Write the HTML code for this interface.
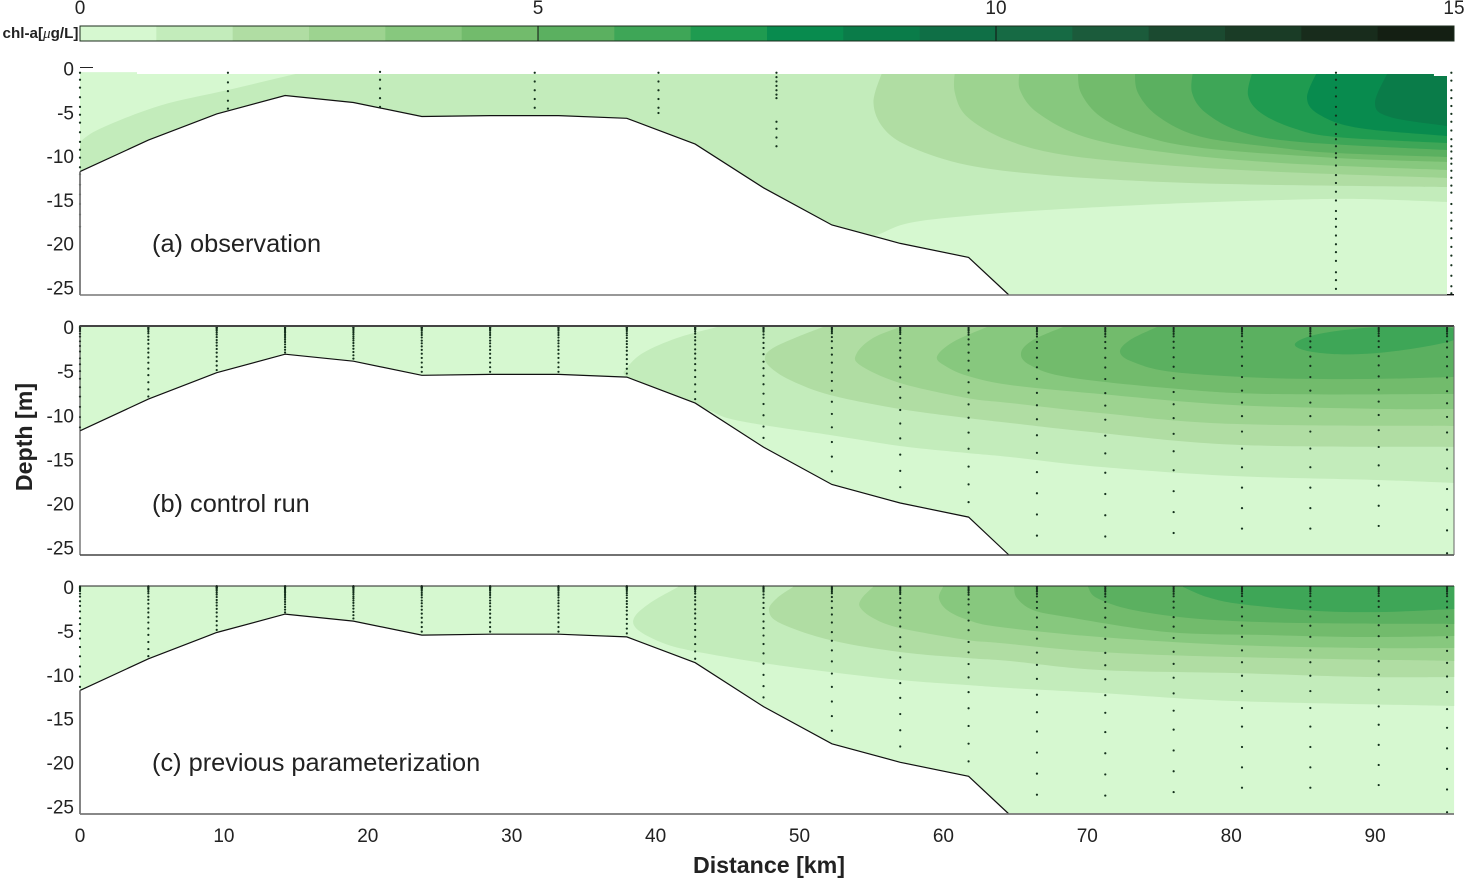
<!DOCTYPE html>
<html lang="en">
<head>
<meta charset="utf-8">
<title>Chlorophyll-a section: observation, control run, previous parameterization</title>
<style>
html,body{margin:0;padding:0;background:#fff;}
svg{display:block;}
text{font-family:"Liberation Sans",Arial,sans-serif;}
</style>
</head>
<body>
<svg id="chart" xmlns="http://www.w3.org/2000/svg" width="1464" height="880" viewBox="0 0 1464 880"></svg>
<script>
// ---------- colour scale ----------
const levelColors = ['#d6f8d0','#c3ecbb','#b0dda3','#9dd390','#87c87e','#72bb6c','#5bb060','#3ea657','#1f9b50','#088b4e','#0a7c49','#0f6f46','#166a44','#1b5b3b','#1b4a30','#1a3c26','#182c1c','#141f13'];
const colorbarTicks = [0,5,10,15];
const colorbarMax = 15;

// ---------- axes ----------
const xTicks = [0,10,20,30,40,50,60,70,80,90];
const yTicks = [0,-5,-10,-15,-20,-25];

// ---------- bathymetry (distance km, depth m) ----------
const bathyKm = [0,4.75,9.5,14.25,19,23.75,28.5,33.25,38,42.75,47.5,52.25,57,61.75,64.55];
const bathyDepth = [11.9,8.3,5.3,3.2,4.0,5.6,5.5,5.5,5.8,8.75,13.75,18.0,20.1,21.7,26];

// ---------- observed water surface in panel (a) ----------
const surfaceA = [[0,0.55],[3.96,0.55],[3.96,0.74],[94.07,0.74],[94.07,0.97],[95,0.97]];
const surfaceModel = [[0,0],[95.5,0]];

// ---------- observation stations, panel (a) ----------
const obsStationKm = [0,10.28,20.85,31.6,40.2,48.4,87.28,95.3];
const obsDepth0 = [0.6,1.4,2.3,3.4,4.5,5.4,6.3,7.4,8.5,9.4,10.3,11.4,12.2,13.4,14.5,15.6,16.8,18.2];
const obsDepth1 = [0.6,1.7,2.7,3.8,4.7];
const obsDepth2 = [0.5,1.4,2.4,3.5,4.5];
const obsDepth3 = [0.6,1.6,2.6,3.6,4.6];
const obsDepth4 = [0.6,1.6,2.6,3.6,4.6,5.2];
const obsDepth5 = [0.6,1.1,1.6,2.1,2.6,3.1,3.5,6.2,7.0,8.0,9.0];
const obsDepth6 = [0.6,1.4,2.3,3.3,4.5,5.5,6.5,7.6,8.2,9,9.8,10.3,11.2,12.3,13.2,14.2,15.2,16.4,17.3,18.2,19.2,20.2,21.1,22.1,23.4,24.3,25.3];
const obsDepth7 = [0.6,1.5,2.6,3.5,4.4,5.3,6.2,7.2,8.2,9,9.6,10.4,11,11.8,12.6,13.5,14.3,15.6,16.6,17.5,18.4,19.5,20.5,21.5,22.6,23.8,25,25.8];
const obsDepths = [obsDepth0,obsDepth1,obsDepth2,obsDepth3,obsDepth4,obsDepth5,obsDepth6,obsDepth7];

// ---------- model grid, panels (b) and (c) ----------
const modelStationKm = [0,4.75,9.5,14.25,19,23.75,28.5,33.25,38,42.75,47.5,52.25,57,61.75,66.5,71.25,76,80.75,85.5,90.25,95];
const modelLowestDot = [11.5,8.0,5.0,3.0,3.7,5.2,5.2,5.2,5.4,8.3,12.7,16.5,18.3,20,23.8,23.9,23.5,23,23,22.7,23.2];
const sigmaFractions = [0.003,0.011,0.019,0.027,0.038,0.05,0.076,0.105,0.151,0.197,0.252,0.319,0.378,0.445,0.521,0.605,0.697,0.798,0.899,1];
const lastStationBottomDot = [25.8];

// ---------- contours, panel (a) observation ----------
const a1Left = [[0,8.5],[1.39,7.0],[5.56,4.35],[10.28,2.57],[14.38,0.97],[15.29,0.63]];
const a1Bottom = [[53.5,20.2],[55.39,19.14],[57.61,17.77],[61.64,16.97],[67.13,16.29],[75.26,15.6],[83.46,15.14],[88.88,15.03],[95,15.37]];
const a2 = [[55.8,0.3],[55.14,4.06],[55.94,7.14],[57.89,9.2],[61.64,11.14],[67.13,12.29],[75.26,13.09],[83.46,13.43],[95,13.66]];
const a3 = [[60.8,0.3],[60.8,2.91],[61.67,5.66],[64.42,8.29],[68.45,10],[75.26,11.14],[83.46,11.94],[95,12.63]];
const a4 = [[65.32,0.3],[65.32,2.57],[66.57,5.2],[69.84,7.94],[75.26,9.66],[83.46,10.91],[95,11.71]];
const a5 = [[69.35,0.3],[69.56,2.91],[70.95,5.66],[73.66,7.71],[77.97,9.2],[87.28,10.34],[95,10.8]];
const a6 = [[73.31,0.3],[73.52,2.91],[74.98,5.66],[77.97,7.94],[83.46,9.2],[87.28,9.77],[95,10.23]];
const a7 = [[77.35,0.3],[77.28,2.91],[78.25,5.2],[80.75,7.37],[84.78,8.51],[95,9.43]];
const a8 = [[81.51,0.3],[81.17,3.14],[82.07,5.2],[84.29,6.91],[87.28,7.94],[95,8.63]];
const a9 = [[86.03,0.3],[85.27,3.49],[86.17,5.43],[88.88,6.91],[95,7.83]];
const a10 = [[90.97,0.3],[89.99,4.06],[91.04,5.66],[95,6.69]];

// ---------- contours, panel (b) control run ----------
const b1 = [[44.27,0.11],[41.49,1.36],[39.12,3.06],[38.01,4.77],[38.01,5.79],[40.65,8.4],[43.57,9.53],[44.96,10.44],[47.46,11.24],[52.12,12.37],[56.98,13.62],[61.64,14.42],[64.63,14.87],[70.88,16.0],[80.13,17.03],[90.13,17.48],[95.48,17.82]];
const b2 = [[51.63,0.11],[49.83,1.25],[48.16,2.5],[47.6,3.52],[47.95,4.65],[49.34,6.13],[52.12,7.83],[56.98,9.42],[61.64,10.44],[64.63,11.01],[70.88,12.15],[80.61,13.51],[95.48,13.73]];
const b3 = [[56.98,0.11],[55.11,1.36],[53.99,3.06],[54.2,4.43],[56.98,6.47],[61.64,8.17],[64.63,8.74],[70.88,9.88],[80.13,11.12],[95.48,11.35]];
const b4 = [[63.03,0.11],[60.67,1.82],[59.55,3.52],[60.25,4.65],[61.71,5.68],[64.63,6.7],[70.88,7.72],[80.13,8.97],[90.55,9.42],[95.48,9.42]];
const b5 = [[68.31,0.11],[66.23,1.59],[65.39,3.06],[66.02,4.43],[68.59,5.79],[75.54,7.04],[82.49,7.72],[95.48,7.72]];
const b6 = [[74.84,0.11],[72.97,1.59],[72.27,2.95],[73.18,4.09],[75.96,5.22],[82.49,5.9],[89.44,6.02],[95.48,5.79]];
const b7 = [[84.43,2.04],[85.96,0.95],[89.44,0.2],[93.12,0.05],[95.6,0.35],[95.5,1.59],[91.73,2.78],[88.26,3.22],[85.48,2.9]];

// ---------- contours, panel (c) previous parameterization ----------
const c1 = [[41.56,0.11],[39.61,1.94],[38.5,3.65],[38.78,5.02],[40.51,6.5],[42.6,7.41],[47.46,8.78],[52.12,9.81],[56.98,10.72],[61.64,11.29],[64.63,11.63],[70.88,12.2],[80.13,13.11],[95.48,13.68]];
const c2 = [[49.55,0.11],[48.44,1.37],[47.88,2.74],[48.64,4.22],[52.12,6.16],[56.98,7.53],[61.64,8.21],[64.63,8.55],[70.88,9.58],[80.13,9.92],[89.44,10.38],[95.48,10.38]];
const c3 = [[55.11,0.11],[54.34,1.37],[54.2,2.39],[55.11,3.65],[56.98,4.79],[61.64,6.16],[63.93,6.5],[70.88,7.53],[80.13,8.1],[95.48,8.55]];
const c4 = [[59.97,0.11],[59.69,1.37],[60.25,2.74],[61.71,3.88],[63.93,4.68],[70.88,5.82],[80.13,6.73],[89.44,7.07],[95.48,7.07]];
const c5 = [[64.91,0.11],[65.11,1.37],[66.23,2.74],[68.59,3.53],[75.54,5.25],[82.49,5.59],[89.44,5.82],[95.48,5.7]];
const c6 = [[70.05,0.11],[70.67,1.37],[73.18,2.74],[77.83,3.76],[84.78,4.22],[95.48,4.33]];
const c7 = [[76.65,0.11],[78.32,1.25],[80.61,2.05],[85.96,2.85],[90.55,2.96],[95.48,2.62]];

// ---------- axis functions ----------
const SVGNS = 'http://www.w3.org/2000/svg';
const svg = document.getElementById('chart');
const xScale = km => 80 + km * 14.39;
const colorbarScale = v => 80 + v * (1374 / colorbarMax);
const maxDepth = 26;
function depthScale(top, bottom){ return d => top + d * (bottom - top) / maxDepth; }

function make(tag, attrs, parent){
  const el = document.createElementNS(SVGNS, tag);
  for (const k in attrs) el.setAttribute(k, attrs[k]);
  (parent || svg).appendChild(el);
  return el;
}

function smoothPath(pts, closed){
  const n = pts.length;
  const at = i => closed ? pts[(i + n) % n] : pts[Math.max(0, Math.min(n - 1, i))];
  let d = (closed ? 'M' : 'L') + pts[0][0].toFixed(1) + ' ' + pts[0][1].toFixed(1);
  const segs = closed ? n : n - 1;
  for (let i = 0; i < segs; i++){
    const p0 = at(i - 1), p1 = at(i), p2 = at(i + 1), p3 = at(i + 2);
    const c1x = p1[0] + (p2[0] - p0[0]) / 6, c1y = p1[1] + (p2[1] - p0[1]) / 6;
    const c2x = p2[0] - (p3[0] - p1[0]) / 6, c2y = p2[1] - (p3[1] - p1[1]) / 6;
    d += 'C' + c1x.toFixed(1) + ' ' + c1y.toFixed(1) + ' ' + c2x.toFixed(1) + ' ' + c2y.toFixed(1) + ' ' + p2[0].toFixed(1) + ' ' + p2[1].toFixed(1);
  }
  return d;
}

function drawContour(group, yScale, level, values, closure, name){
  const px = values.map(v => [xScale(v[0]), yScale(v[1])]);
  const farR = xScale(97), farL = xScale(-1), above = yScale(-1), below = yScale(maxDepth + 1);
  let d;
  if (closure === 'closed'){
    d = smoothPath(px, true) + 'Z';
  } else {
    d = 'M' + px[0][0] + ' ' + px[0][1] + smoothPath(px, false).replace(/^L[^C]*/, '');
    if (closure === 'top-right') d += 'L' + farR + ' ' + px[px.length-1][1] + 'L' + farR + ' ' + above + 'L' + px[0][0] + ' ' + above + 'Z';
    if (closure === 'bottom-right') d += 'L' + farR + ' ' + px[px.length-1][1] + 'L' + farR + ' ' + below + 'L' + px[0][0] + ' ' + below + 'Z';
    if (closure === 'top-left') d += 'L' + px[px.length-1][0] + ' ' + above + 'L' + farL + ' ' + above + 'L' + farL + ' ' + px[0][1] + 'Z';
  }
  const path = make('path', {d: d, fill: levelColors[level]}, group);
  
  
}

function drawDots(group, km, depths, yScale, name){
  depths.forEach(dep => {
    const dot = make('circle', {cx: xScale(km), cy: yScale(dep), r: 1.1, fill: '#14301c'}, group);
    
    
  });
}

function label(content, x, y, size, anchor, name, weight){
  const t = make('text', {x: x, y: y, 'font-size': size, 'text-anchor': anchor, fill: '#222'});
  if (weight) t.setAttribute('font-weight', weight);
  t.textContent = content;
  
  
  return t;
}

function hvLine(x1, y1, x2, y2, stroke, width, name){
  const l = make('line', {x1: x1, y1: y1, x2: x2, y2: y2, stroke: stroke, 'stroke-width': width});
  
  
}

// ---------- panels ----------
function drawPanel(cfg){
  const y = depthScale(cfg.top, cfg.bottom);
  const panel = make('g', {});
  
  

  // water polygon from the surface and bathymetry arrays
  const water = cfg.surface.map(p => [xScale(p[0]), y(p[1])]);
  const endKm = cfg.surface[cfg.surface.length - 1][0];
  water.push([xScale(endKm), y(maxDepth)]);
  for (let i = bathyKm.length - 1; i >= 0; i--) water.push([xScale(bathyKm[i]), y(bathyDepth[i])]);
  const waterPts = water.map(p => p[0].toFixed(1) + ',' + p[1].toFixed(1)).join(' ');

  const clip = make('clipPath', {id: cfg.id + '-clip'}, panel);
  make('polygon', {points: waterPts}, clip);

  const field = make('g', {'clip-path': 'url(#' + cfg.id + '-clip)'}, panel);
  
  

  const base = make('polygon', {points: waterPts, fill: levelColors[cfg.baseLevel]}, field);
  
  

  cfg.contours.forEach(c => drawContour(field, y, c[0], c[1], c[2], cfg.id + '-band-level-' + c[0]));

  // bathymetry line
  const bathyPts = bathyKm.map((k, i) => xScale(k).toFixed(1) + ',' + y(bathyDepth[i]).toFixed(1)).join(' ');
  const bathy = make('polyline', {points: bathyPts, fill: 'none', stroke: '#111', 'stroke-width': 1.2}, panel);
  
  

  // sample dots
  cfg.stations.forEach(s => drawDots(panel, s[0], s[1], y, cfg.id + '-sample-point'));

  // frame
  const xL = xScale(0), xR = 1454;
  cfg.frame(y, xL, xR);

  // y tick labels
  yTicks.forEach(v => label(String(v), 74, y(-v) + 8.2, 19, 'end', cfg.id + '-y-tick-label'));

  // panel title
  label(cfg.title, 152, cfg.titleY, 25.35, 'start', cfg.id + '-title');
}

// ---------- colour bar ----------
const cbar = make('g', {});


levelColors.forEach((c, i) => {
  const w = colorbarMax / levelColors.length;
  const seg = make('rect', {x: colorbarScale(i * w), y: 26, width: colorbarScale((i + 1) * w) - colorbarScale(i * w) + 0.4, height: 15, fill: c}, cbar);
  
  
});
const cbarFrame = make('rect', {x: 80, y: 26, width: 1374, height: 15, fill: 'none', stroke: '#1c2c1c', 'stroke-width': 1}, cbar);


colorbarTicks.forEach(v => {
  if (v > 0 && v < colorbarMax) hvLine(colorbarScale(v), 26, colorbarScale(v), 41, '#111', 1, 'colorbar-tick');
  label(String(v), colorbarScale(v), 14, 19, 'middle', 'colorbar-tick-label');
});
const chl = make('text', {x: 2.5, y: 38, 'font-size': 15.2, 'font-weight': 'bold', fill: '#222'});


chl.appendChild(document.createTextNode('chl-a['));
const mu = make('tspan', {'font-style': 'italic', 'font-weight': 'normal', 'font-family': '"Liberation Serif",serif'}, chl);
mu.textContent = 'μ';
chl.appendChild(document.createTextNode('g/L]'));

// ---------- build the three panels ----------
drawPanel({
  id: 'panel-a', name: 'panel-a-observation', top: 67.5, bottom: 295, baseLevel: 1,
  surface: surfaceA, title: '(a) observation', titleY: 252,
  contours: [[0,a1Left,'top-left'],[0,a1Bottom,'bottom-right'],[2,a2,'top-right'],[3,a3,'top-right'],[4,a4,'top-right'],[5,a5,'top-right'],[6,a6,'top-right'],[7,a7,'top-right'],[8,a8,'top-right'],[9,a9,'top-right'],[10,a10,'top-right']],
  stations: obsStationKm.map((k, i) => [k, obsDepths[i]]),
  frame: (y, xL, xR) => {
    hvLine(xL, y(bathyDepth[0]), xL, 295, '#777', 1.8, 'panel-a-y-axis');
    hvLine(xL, 295, xR, 295, '#777', 1.6, 'panel-a-x-axis');
    hvLine(xL, 67.5, xL + 13, 67.5, '#222', 1, 'panel-a-zero-tick');
    hvLine(xR - 7, 294.5, xR, 294.5, '#111', 1, 'panel-a-end-tick');
  }
});

const modelStations = modelStationKm.map((k, i) => {
  const depths = sigmaFractions.map(f => f * modelLowestDot[i]);
  return [k, i === modelStationKm.length - 1 ? depths.concat(lastStationBottomDot) : depths];
});

drawPanel({
  id: 'panel-b', name: 'panel-b-control-run', top: 326, bottom: 555, baseLevel: 0,
  surface: surfaceModel, title: '(b) control run', titleY: 512,
  contours: [[1,b1,'top-right'],[2,b2,'top-right'],[3,b3,'top-right'],[4,b4,'top-right'],[5,b5,'top-right'],[6,b6,'top-right'],[7,b7,'closed']],
  stations: modelStations,
  frame: (y, xL, xR) => {
    hvLine(xL, 326, xL, 555, '#333', 1, 'panel-b-y-axis');
    hvLine(xL, 326, xR, 326, '#444', 2, 'panel-b-top-edge');
    hvLine(xL, 555, xR, 555, '#444', 1.4, 'panel-b-x-axis');
    hvLine(xR, 326, xR, 555, '#666', 1, 'panel-b-right-edge');
  }
});

drawPanel({
  id: 'panel-c', name: 'panel-c-previous-parameterization', top: 586, bottom: 814, baseLevel: 0,
  surface: surfaceModel, title: '(c) previous parameterization', titleY: 771,
  contours: [[1,c1,'top-right'],[2,c2,'top-right'],[3,c3,'top-right'],[4,c4,'top-right'],[5,c5,'top-right'],[6,c6,'top-right'],[7,c7,'top-right']],
  stations: modelStations,
  frame: (y, xL, xR) => {
    hvLine(xL, y(bathyDepth[0]), xL, 814, '#777', 1.8, 'panel-c-y-axis');
    hvLine(xL, 586, xR, 586, '#222', 1, 'panel-c-top-edge');
    hvLine(xL, 814, xR, 814, '#777', 1.8, 'panel-c-x-axis');
  }
});

// ---------- shared labels ----------
xTicks.forEach(v => label(String(v), xScale(v), 842, 19, 'middle', 'x-tick-label'));
label('Distance [km]', 769, 873, 23.2, 'middle', 'x-axis-title', 'bold');
const depthTitle = label('Depth [m]', 0, 0, 23.2, 'middle', 'y-axis-title', 'bold');
depthTitle.setAttribute('transform', 'translate(32 437) rotate(-90)');
</script>
</body>
</html>
